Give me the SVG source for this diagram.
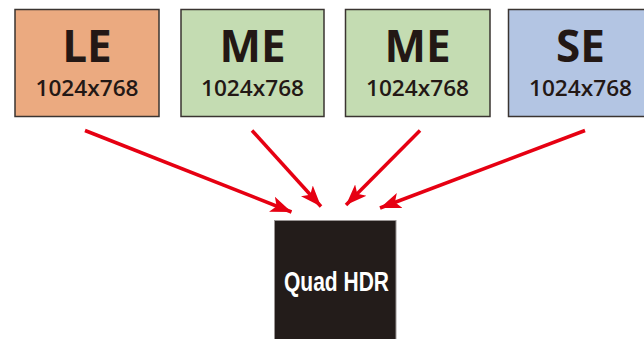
<svg xmlns="http://www.w3.org/2000/svg" width="644" height="339" viewBox="0 0 644 339">
<style>
.box{stroke:#3a3431;stroke-width:1.5}
.t1{font-family:"Open Sans","Noto Sans",sans-serif;font-weight:bold;font-size:44px;fill:#231815;text-anchor:middle}
.t2{font-family:"Open Sans","Noto Sans",sans-serif;font-weight:600;font-size:21px;fill:#231815;text-anchor:middle}
.arr{stroke:#e60012;stroke-width:3.5;fill:none;marker-end:url(#ah)}
.q{font-family:"Liberation Sans",Arial,sans-serif;font-weight:bold;font-size:27px;fill:#ffffff;text-anchor:middle}
</style>
<defs>
<marker id="ah" markerUnits="userSpaceOnUse" markerWidth="22" markerHeight="18" viewBox="0 0 22 18" refX="21" refY="9" orient="auto">
<path d="M0,1 L21,9 L0,17 L5,9 Z" fill="#e60012"/>
</marker>
</defs>
<rect width="644" height="339" fill="#ffffff"/>
<g id="LE">
<rect class="box" x="15" y="9.5" width="144" height="107" fill="#ebaa80"/>
<text class="t1" x="87" y="62">LE</text>
<text class="t2" x="87" y="96" textLength="103" lengthAdjust="spacingAndGlyphs">1024x768</text>
</g>
<g id="ME1">
<rect class="box" x="181" y="9.5" width="143" height="107" fill="#c4dcb2"/>
<text class="t1" x="252.5" y="62">ME</text>
<text class="t2" x="252.5" y="96" textLength="103" lengthAdjust="spacingAndGlyphs">1024x768</text>
</g>
<g id="ME2">
<rect class="box" x="345.5" y="9.5" width="144.5" height="107" fill="#c4dcb2"/>
<text class="t1" x="417.5" y="62">ME</text>
<text class="t2" x="417.5" y="96" textLength="103" lengthAdjust="spacingAndGlyphs">1024x768</text>
</g>
<g id="SE">
<rect class="box" x="508.5" y="9.5" width="143" height="107" fill="#b3c5e3"/>
<text class="t1" x="580.5" y="62">SE</text>
<text class="t2" x="580.5" y="96" textLength="103" lengthAdjust="spacingAndGlyphs">1024x768</text>
</g>
<g id="QuadHDR">
<rect x="274.5" y="220.5" width="121.5" height="125" fill="#231c1a" stroke="#9a9594" stroke-width="1"/>
<text class="q" x="336.5" y="291" textLength="105" lengthAdjust="spacingAndGlyphs">Quad HDR</text>
</g>
<g id="connectors">
<line class="arr" x1="85" y1="130.5" x2="291.5" y2="212"/>
<line class="arr" x1="252" y1="130.5" x2="321" y2="206.5"/>
<line class="arr" x1="420" y1="130.5" x2="346" y2="205"/>
<line class="arr" x1="585" y1="130.5" x2="380" y2="208"/>
</g>
</svg>
